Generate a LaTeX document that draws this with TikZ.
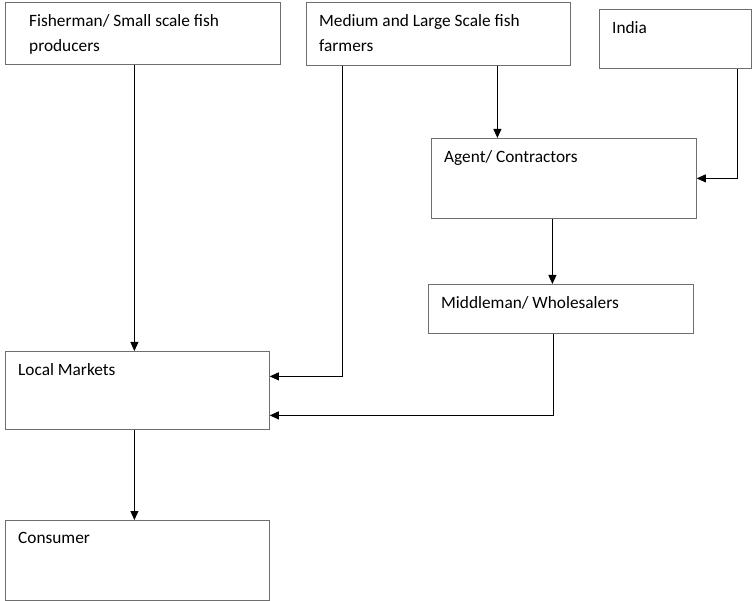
\documentclass[tikz,border=0pt]{standalone}
\usepackage{fontspec}
\setmainfont{Carlito}
\usetikzlibrary{arrows.meta}
\definecolor{boxgray}{RGB}{110,110,110}
\tikzstyle{box}=[draw=boxgray, line width=0.8pt, anchor=north west, inner sep=0pt]
\tikzstyle{txt}=[anchor=north west, inner sep=0pt, align=left, font=\fontsize{17.3}{25}\selectfont, xshift=13pt, yshift=-12pt]
\tikzstyle{arr}=[line width=0.8pt, -{Triangle[length=9pt,width=8pt]}]

\begin{document}
\begin{tikzpicture}[x=1pt, y=-1pt]
				\useasboundingbox (0,0) rectangle (752,601);
				\node[box, minimum width=275pt, minimum height=62pt, label={[txt, xshift=11pt]north west:{Fisherman/ Small scale fish\\producers}}] (fisher) at (5,2) {};
				\node[box, minimum width=264pt, minimum height=63pt, label={[txt]north west:{Medium and Large Scale fish\\farmers}}] (med) at (306,2) {};
				\node[box, minimum width=152pt, minimum height=59pt, label={[txt]north west:{India}}] (india) at (599,9) {};
				\node[box, minimum width=265pt, minimum height=80pt, label={[txt]north west:{Agent/ Contractors}}] (agent) at (431,138) {};
				\node[box, minimum width=265pt, minimum height=49pt, label={[txt]north west:{Middleman/ Wholesalers}}] (mid) at (428,284) {};
				\node[box, minimum width=264pt, minimum height=78pt, label={[txt]north west:{Local Markets}}] (lm) at (5,351) {};
				\node[box, minimum width=264pt, minimum height=80pt, label={[txt]north west:{Consumer}}] (cons) at (5,520) {};
				% connectors
				\draw[arr] ([xshift=-8.5pt]fisher.south) -- ([xshift=-3pt]lm.north);
				\draw[arr] ([xshift=-96pt]med.south) |- ([yshift=14pt]lm.east);
				\draw[arr] ([xshift=59pt]med.south) -- ([xshift=-66.5pt]agent.north);
				\draw[arr] ([xshift=62pt]india.south) |- (agent.east);
				\draw[arr] ([xshift=-11.5pt]agent.south) -- ([xshift=-8.5pt]mid.north);
				\draw[arr] ([xshift=-7.5pt]mid.south) |- ([yshift=-25pt]lm.east);
				\draw[arr] ([xshift=-3pt]lm.south) -- ([xshift=-3pt]cons.north);
			\end{tikzpicture}
\end{document}
